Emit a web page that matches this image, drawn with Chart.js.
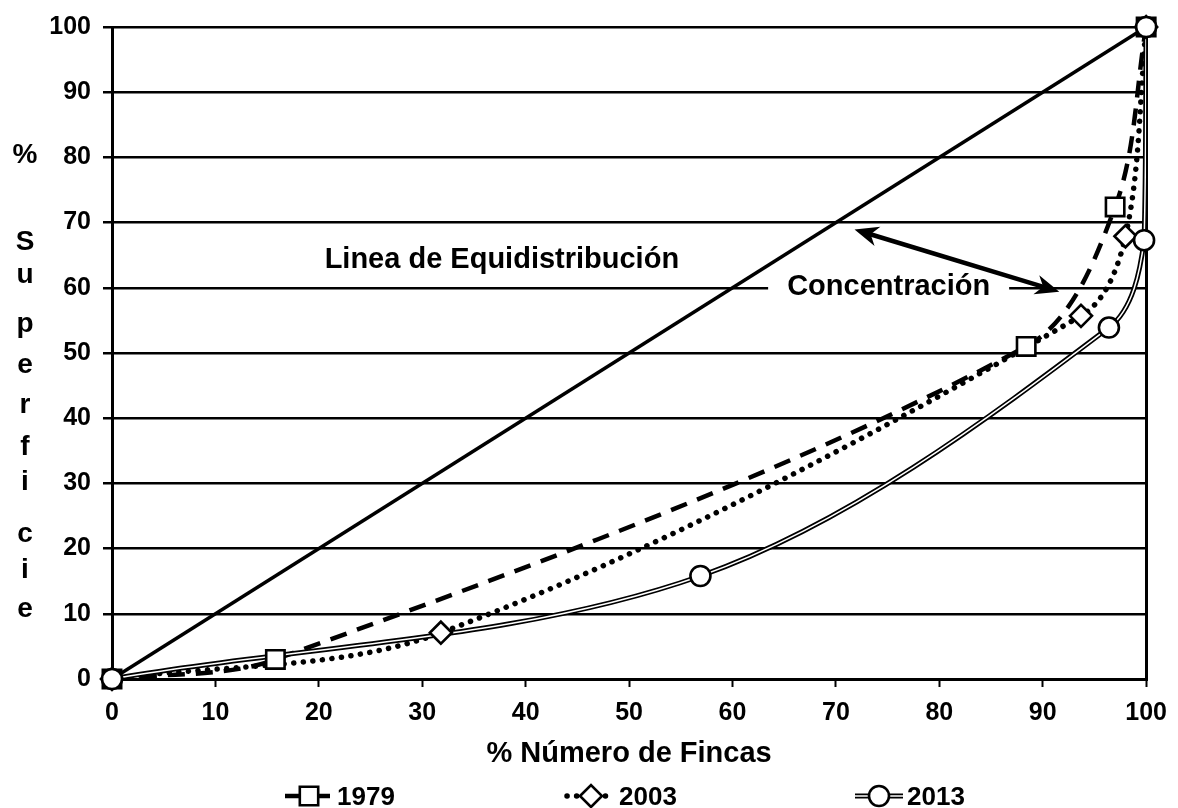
<!DOCTYPE html>
<html>
<head>
<meta charset="utf-8">
<script src="https://cdn.jsdelivr.net/npm/chart.js@4.4.1/dist/chart.umd.min.js"></script>
<style>
html,body{margin:0;padding:0;background:#ffffff;}
#wrap{width:1178px;height:808px;position:relative;}
canvas{display:block;}
</style>
</head>
<body>
<div id="wrap"><canvas id="c" width="1178" height="808"></canvas></div>
<script>
// ---- data ----
const xTicks = [0, 10, 20, 30, 40, 50, 60, 70, 80, 90, 100];
const yTicks = [0, 10, 20, 30, 40, 50, 60, 70, 80, 90, 100];

const seriesLabels = ['1979', '2003', '2013'];

const x1979 = [0, 15.8, 88.4, 97.0, 100];
const y1979 = [0, 3.0, 51.0, 72.4, 100];

const x2003 = [0, 31.8, 93.7, 98.0, 100];
const y2003 = [0, 7.1, 55.7, 67.9, 100];

const x2013 = [0, 56.9, 96.4, 99.8, 100];
const y2013 = [0, 15.8, 53.9, 67.3, 100];

const xEqui = [0, 100];
const yEqui = [0, 100];

const xTitle = '% Número de Fincas';
const yTitle = '% Superficie';
const equiLabel = 'Linea de Equidistribución';
const concLabel = 'Concentración';

// ---- helpers ----
const FONT = '"Liberation Sans", Arial, "Helvetica Neue", sans-serif';
const pts = (xs, ys) => xs.map((x, i) => ({ x: x, y: ys[i] }));
const TENSION = 0.33;
const lineClip = { left: 6, top: 6, right: 0, bottom: 6 };

const mark1979 = { pointStyle: 'rect', pointRadius: 13, pointBorderWidth: 2.6, pointBorderColor: '#000', pointBackgroundColor: '#fff' };
const mark2003 = { pointStyle: 'rectRot', pointRadius: 11, pointBorderWidth: 2.6, pointBorderColor: '#000', pointBackgroundColor: '#fff' };
const mark2013 = { pointStyle: 'circle', pointRadius: 10, pointBorderWidth: 2.6, pointBorderColor: '#000', pointBackgroundColor: '#fff' };
const line1979 = { borderColor: '#000', borderWidth: 4.5, borderDash: [17, 11], borderCapStyle: 'butt' };
const line2003 = { borderColor: '#000', borderWidth: 5.5, borderDash: [0.1, 9.5], borderCapStyle: 'round' };

function lineDs(label, xs, ys, style, order) {
  return Object.assign({ label: label, data: pts(xs, ys), tension: TENSION, pointRadius: 0, pointHoverRadius: 0, order: order, clip: lineClip }, style);
}
function markDs(label, xs, ys, style, order) {
  return Object.assign({ label: label, data: pts(xs, ys), showLine: false, order: order, clip: false }, style);
}

const datasets = [
  markDs(seriesLabels[2], x2013, y2013, mark2013, 0),
  markDs(seriesLabels[1], x2003, y2003, mark2003, 1),
  markDs(seriesLabels[0], x1979, y1979, mark1979, 2),
  lineDs('2013 inner', x2013, y2013, { borderColor: '#fff', borderWidth: 1.5 }, 3),
  lineDs('2013 outer', x2013, y2013, { borderColor: '#000', borderWidth: 5 }, 4),
  lineDs('2003 line', x2003, y2003, line2003, 5),
  lineDs('1979 line', x1979, y1979, line1979, 6),
  { label: 'equi', data: pts(xEqui, yEqui), borderColor: '#000', borderWidth: 3.5, pointRadius: 0, tension: 0, order: 7, clip: 4 }
];

function drawMarker(ctx, st, cx, cy) {
  ctx.save();
  ctx.setLineDash([]);
  ctx.lineWidth = st.pointBorderWidth;
  ctx.strokeStyle = st.pointBorderColor;
  ctx.fillStyle = st.pointBackgroundColor;
  if (Chart.helpers && Chart.helpers.drawPoint) {
    Chart.helpers.drawPoint(ctx, { pointStyle: st.pointStyle, radius: st.pointRadius, rotation: 0, borderWidth: st.pointBorderWidth }, cx, cy);
  } else {
    ctx.beginPath();
    ctx.arc(cx, cy, st.pointRadius, 0, Math.PI * 2);
    ctx.fill(); ctx.stroke();
  }
  ctx.restore();
}

function arrowHead(ctx, tip, from, L, W) {
  const a = Math.atan2(tip.y - from.y, tip.x - from.x);
  const bx = tip.x - L * Math.cos(a), by = tip.y - L * Math.sin(a);
  const nx = -Math.sin(a), ny = Math.cos(a);
  ctx.beginPath();
  ctx.moveTo(tip.x, tip.y);
  ctx.lineTo(bx + nx * W, by + ny * W);
  ctx.lineTo(tip.x - L * 0.7 * Math.cos(a), tip.y - L * 0.7 * Math.sin(a));
  ctx.lineTo(bx - nx * W, by - ny * W);
  ctx.closePath();
  ctx.fill();
}

const deco = {
  id: 'deco',
  afterDatasetsDraw(chart) {
    const ctx = chart.ctx;
    const x = chart.scales.x, y = chart.scales.y;
    const ca = chart.chartArea;
    ctx.save();
    ctx.fillStyle = '#000';
    ctx.textBaseline = 'alphabetic';

    // Concentracion label with white background
    ctx.font = 'bold 29px ' + FONT;
    const cX = x.getPixelForValue(75.1), cY = y.getPixelForValue(58.9);
    const cw = ctx.measureText(concLabel).width;
    ctx.fillStyle = '#fff';
    ctx.fillRect(cX - cw / 2 - 19, cY - 23, cw + 38, 30);
    ctx.fillStyle = '#000';
    ctx.textAlign = 'center';
    ctx.fillText(concLabel, cX, cY);

    // Linea de Equidistribucion label
    ctx.fillText(equiLabel, x.getPixelForValue(37.7), y.getPixelForValue(63.0));

    // double-headed arrow
    const p1 = { x: x.getPixelForValue(71.8), y: y.getPixelForValue(68.95) };
    const p2 = { x: x.getPixelForValue(91.6), y: y.getPixelForValue(59.4) };
    const a = Math.atan2(p2.y - p1.y, p2.x - p1.x);
    const sh = 14;
    ctx.strokeStyle = '#000';
    ctx.lineWidth = 4.5;
    ctx.setLineDash([]);
    ctx.beginPath();
    ctx.moveTo(p1.x + sh * Math.cos(a), p1.y + sh * Math.sin(a));
    ctx.lineTo(p2.x - sh * Math.cos(a), p2.y - sh * Math.sin(a));
    ctx.stroke();
    arrowHead(ctx, p1, p2, 24, 10);
    arrowHead(ctx, p2, p1, 24, 10);

    // Y title: stacked letters
    ctx.font = 'bold 28px ' + FONT;
    ctx.textAlign = 'center';
    const letters = Array.from(yTitle.replace(' ', ''));
    const baseY = [163, 250, 283, 332, 373, 413, 455, 490, 542, 578, 617];
    letters.forEach((ch, i) => ctx.fillText(ch, 25, baseY[i]));

    // X title
    ctx.font = 'bold 29px ' + FONT;
    ctx.fillText(xTitle, (ca.left + ca.right) / 2, 762);

    // Legend
    const items = [
      { label: seriesLabels[0], line: line1979, mark: mark1979 },
      { label: seriesLabels[1], line: line2003, mark: mark2003 },
      { label: seriesLabels[2], line: null, mark: mark2013 }
    ];
    const starts = [285, 567, 855];
    const symW = 48, symY = 796;
    ctx.font = 'bold 26px ' + FONT;
    ctx.textAlign = 'left';
    items.forEach((it, k) => {
      const sx = starts[k];
      ctx.save();
      if (!it.line) {
        ctx.setLineDash([]);
        ctx.strokeStyle = '#000'; ctx.lineWidth = 5;
        ctx.beginPath(); ctx.moveTo(sx, symY); ctx.lineTo(sx + symW, symY); ctx.stroke();
        ctx.strokeStyle = '#fff'; ctx.lineWidth = 1.5;
        ctx.beginPath(); ctx.moveTo(sx, symY); ctx.lineTo(sx + symW, symY); ctx.stroke();
      } else {
        ctx.lineCap = it.line.borderCapStyle;
        ctx.setLineDash(it.line.borderDash);
        ctx.strokeStyle = it.line.borderColor; ctx.lineWidth = it.line.borderWidth;
        ctx.beginPath(); ctx.moveTo(sx, symY); ctx.lineTo(sx + symW, symY); ctx.stroke();
      }
      ctx.restore();
      drawMarker(ctx, it.mark, sx + symW / 2, symY);
      ctx.fillStyle = '#000';
      ctx.fillText(it.label, sx + symW + 4, 805);
    });
    ctx.restore();
  }
};

new Chart(document.getElementById('c'), {
  type: 'line',
  data: { datasets: datasets },
  plugins: [deco],
  options: {
    responsive: false,
    animation: false,
    devicePixelRatio: 1,
    layout: { padding: { top: 22, right: 22, left: 0, bottom: 0 } },
    plugins: { legend: { display: false }, tooltip: { enabled: false }, title: { display: false } },
    elements: { line: { fill: false } },
    scales: {
      x: {
        type: 'linear', min: 0, max: 100,
        afterBuildTicks: (s) => { s.ticks = xTicks.map(v => ({ value: v })); },
        ticks: { color: '#000', font: { family: FONT, size: 25, weight: 'bold' }, padding: 11, maxRotation: 0, autoSkip: false },
        grid: {
          color: (c) => (c.tick && c.tick.value === 100) ? '#000' : 'rgba(0,0,0,0)',
          lineWidth: 3, tickColor: '#000', tickLength: 8, tickWidth: 2
        },
        border: { color: '#000', width: 3 },
        afterFit: (s) => { s.height = 129; }
      },
      y: {
        type: 'linear', min: 0, max: 100,
        afterBuildTicks: (s) => { s.ticks = yTicks.map(v => ({ value: v })); },
        ticks: { color: '#000', font: { family: FONT, size: 25, weight: 'bold' }, padding: 12, autoSkip: false },
        grid: { color: '#000', lineWidth: 2.5, tickColor: '#000', tickLength: 9, tickWidth: 2.5 },
        border: { color: '#000', width: 3 },
        afterFit: (s) => { s.width = 112; }
      }
    }
  }
});
</script>
</body>
</html>
